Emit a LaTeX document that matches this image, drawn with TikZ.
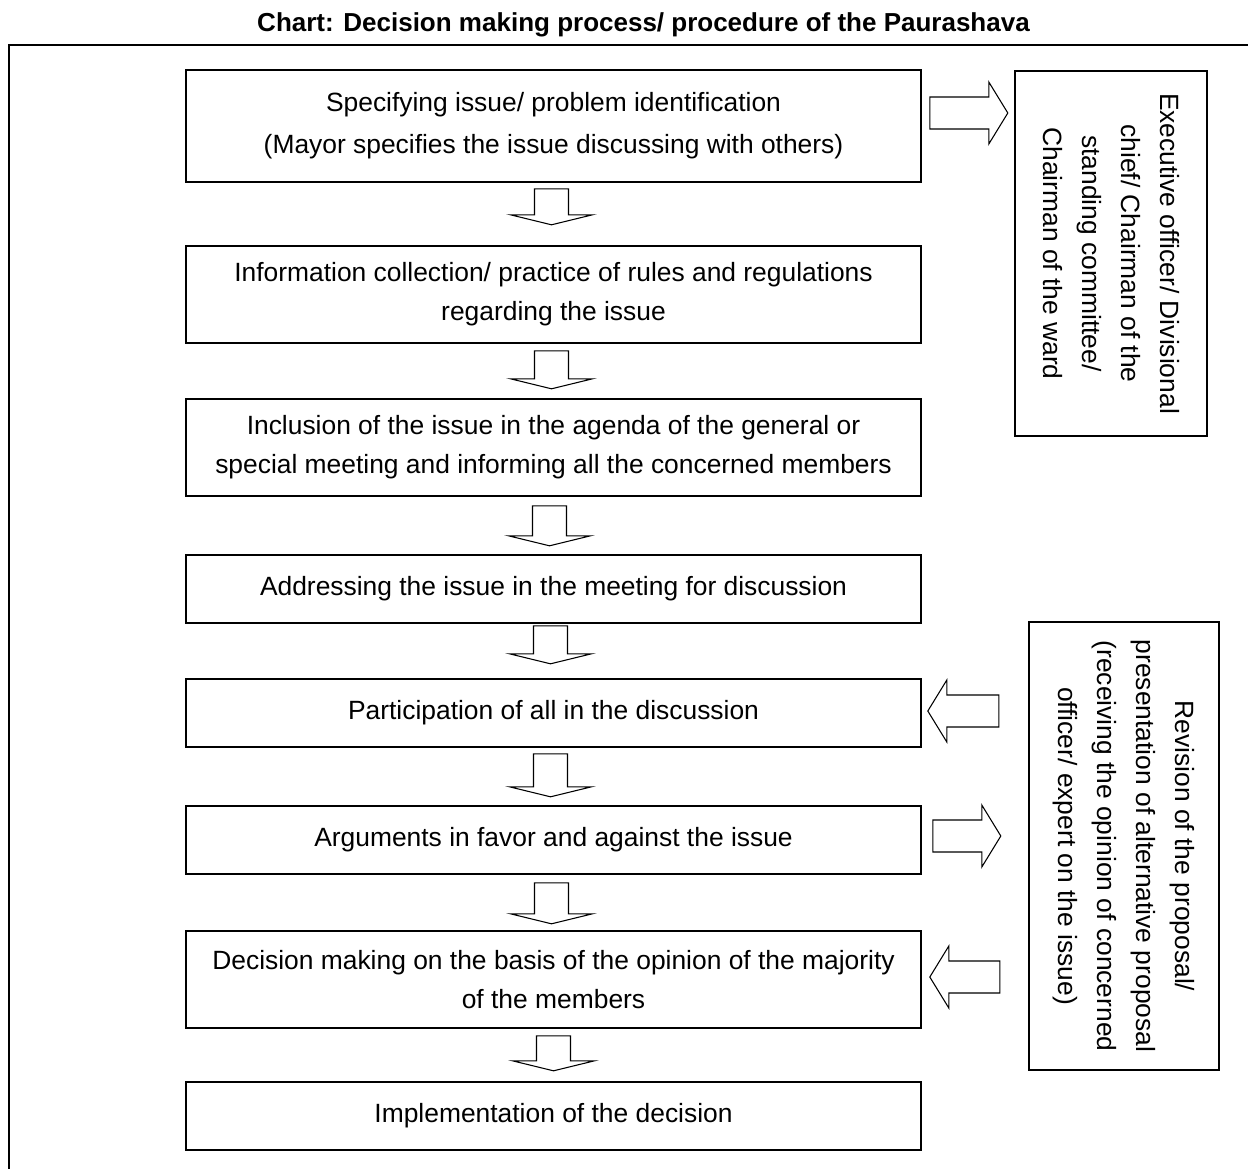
\documentclass[tikz,border=0pt]{standalone}
\usepackage{fontspec}
\setmainfont{Liberation Sans}
\usetikzlibrary{calc}
\begin{document}
\begin{tikzpicture}[x=0.75pt,y=-0.75pt,
  txt/.style={font=\fontsize{19.8}{29.25}\selectfont},
  stepbox/.style={draw, line width=1.2pt, txt, align=center, inner sep=0pt,
    minimum width=735*0.75pt},
  sidebox/.style={draw, line width=1.2pt, txt, align=center, inner sep=0pt,
    rotate=-90},
  blockline/.style={draw, line width=0.8pt, fill=white, line join=miter},
  pics/downblock/.style={code={
    \draw[blockline] (-17,0) -- (17,0) -- (17,#1-10) -- (41,#1-10) -- (0,#1)
      -- (-41,#1-10) -- (-17,#1-10) -- cycle;
  }},
  pics/sideblock/.style={code={
    \draw[blockline] (0,-16) -- (#1-19,-16) -- (#1-19,-31) -- (#1,0)
      -- (#1-19,31) -- (#1-19,16) -- (0,16) -- cycle;
  }},
]
\useasboundingbox (0,0) rectangle (1248,1168);

% outer frame, running off the page to the right and bottom
\begin{scope}
  \clip (0,0) rectangle (1248,1168);
  \draw[line width=1.6pt] (1260,45) -- (9,45) -- (9,1180);
\end{scope}

% title
\node[font=\bfseries\fontsize{19.5}{24}\selectfont] (title) at (643.5,25)
  {Chart: Decision making process/ procedure of the Paurashava};

% main sequence of steps
\node[stepbox, minimum height=112*0.75pt] (b1) at (553.5,126)
  {Specifying issue/ problem identification\\[2.5pt]
   (Mayor specifies the issue discussing with others)};
\node[stepbox, minimum height=97*0.75pt] (b2) at (553.5,294.5)
  {Information collection/ practice of rules and regulations\\
   regarding the issue};
\node[stepbox, minimum height=97*0.75pt] (b3) at (553.5,447.5)
  {Inclusion of the issue in the agenda of the general or\\
   special meeting and informing all the concerned members};
\node[stepbox, minimum height=68*0.75pt] (b4) at (553.5,589)
  {Addressing the issue in the meeting for discussion};
\node[stepbox, minimum height=68*0.75pt] (b5) at (553.5,713)
  {Participation of all in the discussion};
\node[stepbox, minimum height=68*0.75pt] (b6) at (553.5,840)
  {Arguments in favor and against the issue};
\node[stepbox, minimum height=97*0.75pt] (b7) at (553.5,979.5)
  {Decision making on the basis of the opinion of the majority\\
   of the members};
\node[stepbox, minimum height=68*0.75pt] (b8) at (553.5,1116)
  {Implementation of the decision};

% side boxes with vertical text
\node[sidebox, minimum width=365*0.75pt, minimum height=192*0.75pt] (r1)
  at (1111,253.5)
  {Executive officer/ Divisional\\ chief/ Chairman of the\\
   standing committee/\\ Chairman of the ward};
\node[sidebox, minimum width=448*0.75pt, minimum height=190*0.75pt] (r2)
  at (1124,846)
  {Revision of the proposal/\\ presentation of alternative proposal\\
   (receiving the opinion of concerned\\ officer/ expert on the issue)};

% block arrows between the steps
\pic at ($(b1.south)+(-2,6)$) {downblock=36};
\pic at ($(b2.south)+(-2,7)$) {downblock=38};
\pic at ($(b3.south)+(-4,9)$) {downblock=40};
\pic at ($(b4.south)+(-3,2)$) {downblock=38};
\pic at ($(b5.south)+(-3,6)$) {downblock=43};
\pic at ($(b6.south)+(-2,8)$) {downblock=41};
\pic at ($(b7.south)+(0,7)$) {downblock=35};

% block arrows to and from the side boxes
\pic at ($(b1.east)+(8,-13)$) {sideblock=78};
\pic[xscale=-1] at ($(b5.east)+(77,-2)$) {sideblock=71};
\pic at ($(b6.east)+(11,-4)$) {sideblock=68};
\pic[xscale=-1] at ($(b7.east)+(78,-2.5)$) {sideblock=70};
\end{tikzpicture}
\end{document}
